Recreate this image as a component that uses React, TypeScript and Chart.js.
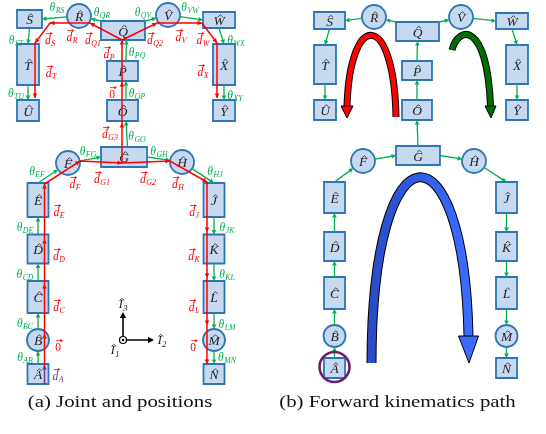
import React, { useEffect, useRef } from "react";
import { Chart, registerables } from "chart.js";

Chart.register(...registerables);

// ---------- data ----------
const NODE_NAMES = ["S","R","Q","V","W","T","P","X","U","O","Y","F","G","H","E","J","D","K","C","L","B","M","A","N"];
const JOINT_NODES = ["R","V","F","H","B","M"];

// panel (a) layout (diagram units)
const A_X = [29.5, 79, 123, 168, 219, 28, 122.5, 224, 28, 122.5, 224, 68, 124, 182, 38, 214, 38, 214, 38, 214, 38, 214, 38, 214];
const A_Y = [19, 16, 30.5, 15, 20, 64.5, 71, 64.5, 110.5, 110.5, 110.5, 163, 157, 162, 200, 200, 249, 249, 297, 297, 340, 340, 374, 374];
const A_W = [25, 24, 44, 24, 32, 22, 31, 22, 22, 31, 22, 24, 46, 24, 21, 21, 21, 21, 21, 21, 22, 22, 21, 21];
const A_H = [18, 24, 19, 24, 16, 41, 20, 41, 21, 21, 21, 24, 20, 24, 34, 34, 29, 29, 32, 32, 22, 22, 20, 20];

// panel (b) layout
const B_X = [329.5, 374, 417.5, 461, 512, 325, 417, 517, 325, 417, 517, 363, 418, 474, 334.5, 506.5, 334.5, 506.5, 334.5, 506.5, 334.5, 506.5, 334.5, 506.5];
const B_Y = [20.5, 17, 31.5, 17, 21, 64.5, 70.5, 64.5, 110, 110, 110, 161, 155.5, 161, 197.5, 197.5, 246.5, 246.5, 293, 293, 336, 336, 368, 368];
const B_W = [31, 24, 43, 24, 32, 22, 30, 22, 22, 30, 22, 24, 44, 24, 21, 21, 21, 21, 21, 21, 22, 22, 21, 21];
const B_H = [17, 24, 19, 24, 16, 39, 19, 39, 20, 20, 20, 24, 19, 24, 31, 31, 29, 29, 32, 32, 22, 22, 20, 20];

// kinematic links (from, anchor, to, anchor)
const LINKS: [string, string, string, string][] = [
  ["A","t","B","c"],["B","c","C","b"],["C","t","D","b"],["D","t","E","b"],["E","t","F","c"],
  ["F","c","G","l"],["G","r","H","c"],["H","c","J","t"],["J","b","K","t"],["K","b","L","t"],
  ["L","b","M","c"],["M","c","N","t"],["G","t","O","b"],["O","t","P","b"],["P","t","Q","b"],
  ["Q","tl","R","c"],["Q","tr","V","c"],["R","c","S","r"],["V","c","W","l"],["S","b","T","t"],
  ["W","b","X","t"],["T","b","U","t"],["X","b","Y","t"],
];
const SPINE_FROM = ["G","O","P"];

// position vectors (panel a)
const RED_CHAINS: number[][][] = [
  [[44.5,365],[44.5,334],[44.5,284],[44.5,239],[44.5,184],[80,161],[122,163],[170,161],[207,182],[207,232],[207,278],[207,325],[207,364]],
  [[122,163],[122,123],[122,82],[122,40]],
  [[122,40],[90,23],[50,23],[35,43],[35,98]],
  [[122,40],[157,23],[202,23],[217,43],[217,98]],
];
const PURPLE_CHAIN = [[44.5,384],[44.5,365]];

const THETA_LABELS: [string, number, number][] = [
  ["RS",57,7],["QR",102,12],["QV",143,12],["VW",190,7],["ST",16,40],["WX",236,40],
  ["PQ",137,52],["TU",16,93],["XY",235,95],["OP",137,93],["GO",137,136],
  ["FG",88,151],["GH",159,151],["EF",37,171],["HJ",215,171],["DE",25,227],["JK",227,227],
  ["CD",25,274],["KL",227,274],["BC",25,323],["LM",227,324],["AB",25,357],["MN",227,357],
];
const D_LABELS: [string, number, number][] = [
  ["R",72,37],["S",50,40],["Q1",93,40],["Q2",155,40],["V",181,37],["W",203,40],
  ["P",109,54],["T",51,73],["X",203,72],["G3",110,134],
  ["F",75,184],["G1",102,179],["G2",148,179],["H",178,184],
  ["E",59,212],["J",194,212],["D",59,256],["K",194,256],["C",59,307],["L",194,307],
];
const ZERO_LABELS = [[112,94],[58,347],[193,347]];
const DA_LABEL: [string, number, number] = ["A",58,376];

const FRAME_ORIGIN = [123, 340];
const FRAME_UP = [123, 312];
const FRAME_RIGHT = [154, 340];
const FRAME_LABELS: [string, number, number][] = [["1",115,350],["2",162,340],["3",123,304]];

// forward-kinematics path sweeps (panel b): cubic control points
const RED_SWEEP = [[396,117],[394,10],[350,10],[347,106]];
const RED_TIP = [347,118];
const GREEN_SWEEP = [[452,50],[458,26],[487,20],[490.5,106]];
const GREEN_TIP = [491,118];
const BLUE_SWEEP = [[371.5,363],[372,120],[464,120],[468.5,336]];
const BLUE_TIP = [469,363];
const BASE_MARK = [334.5, 367];

const CAPTIONS = ["(a) Joint and positions", "(b) Forward kinematics path"];
const CAPTION_X = [120, 397.5];
const CAPTION_Y = 407;

// ---------- drawing helpers ----------
const GREEN = "#00b050";
const RED = "#ff0000";
const BOX_FILL = "#c6d9f0";
const BOX_EDGE = "#2e75b6";
const SERIF = "'Liberation Serif', 'DejaVu Serif', serif";

function head(ctx: CanvasRenderingContext2D, x1: number, y1: number, x2: number, y2: number, len: number, half: number, color: string) {
  const a = Math.atan2(y2 - y1, x2 - x1);
  const c = Math.cos(a), s = Math.sin(a);
  ctx.beginPath();
  ctx.moveTo(x2, y2);
  ctx.lineTo(x2 - len * c + half * s, y2 - len * s - half * c);
  ctx.lineTo(x2 - len * c - half * s, y2 - len * s + half * c);
  ctx.closePath();
  ctx.fillStyle = color;
  ctx.fill();
}

function symbol(ctx: CanvasRenderingContext2D, cx: number, cy: number, main: string, sub: string, color: string, decor: string, size: number, italicMain = true) {
  const subSize = size * 0.68;
  const mf = `${italicMain ? "italic " : ""}${size}px ${SERIF}`;
  const sf = `italic ${subSize}px ${SERIF}`;
  ctx.font = mf;
  const mw = ctx.measureText(main).width;
  ctx.font = sf;
  const sw = sub ? ctx.measureText(sub).width + 0.5 : 0;
  const x0 = cx - (mw + sw) / 2;
  const base = cy + size * 0.32;
  ctx.fillStyle = color;
  ctx.textAlign = "left";
  ctx.textBaseline = "alphabetic";
  ctx.font = mf;
  ctx.fillText(main, x0, base);
  if (sub) {
    ctx.font = sf;
    ctx.fillText(sub, x0 + mw + 0.5, base + subSize * 0.35);
  }
  if (decor === "vec") {
    const y = base - size * 0.88;
    ctx.strokeStyle = color;
    ctx.lineWidth = 0.8;
    ctx.beginPath();
    ctx.moveTo(x0 + 1, y);
    ctx.lineTo(x0 + mw + 1, y);
    ctx.stroke();
    head(ctx, x0 + 1, y, x0 + mw + 2, y, 2.5, 1.6, color);
  } else if (decor === "hat") {
    const y = base - size * 0.72;
    const hx = x0 + mw / 2 + size * 0.1;
    ctx.strokeStyle = color;
    ctx.lineWidth = 0.8;
    ctx.beginPath();
    ctx.moveTo(hx - 2.4, y + 1.3);
    ctx.lineTo(hx, y - 0.8);
    ctx.lineTo(hx + 2.4, y + 1.3);
    ctx.stroke();
  }
}

function bez(ctx: CanvasRenderingContext2D, p: number[][]) {
  ctx.beginPath();
  ctx.moveTo(p[0][0], p[0][1]);
  ctx.bezierCurveTo(p[1][0], p[1][1], p[2][0], p[2][1], p[3][0], p[3][1]);
}

const diagramPlugin = {
  id: "kinematicsDiagram",
  afterDatasetsDraw(chart: any) {
    const ctx: CanvasRenderingContext2D = chart.ctx;
    const xs = chart.scales.x, ys = chart.scales.y;
    const px = (v: number) => xs.getPixelForValue(v);
    const py = (v: number) => ys.getPixelForValue(v);
    const lx = (v: number) => px(v) - px(0);
    const ly = (v: number) => py(v) - py(0);
    const P = (p: number[]) => [px(p[0]), py(p[1])];

    const panels = [
      { X: A_X, Y: A_Y, W: A_W, H: A_H, a: true },
      { X: B_X, Y: B_Y, W: B_W, H: B_H, a: false },
    ];

    ctx.save();
    panels.forEach((pn) => {
      const node = (name: string) => {
        const i = NODE_NAMES.indexOf(name);
        return { x: px(pn.X[i]), y: py(pn.Y[i]), w: lx(pn.W[i]), h: ly(pn.H[i]), j: JOINT_NODES.includes(name) };
      };
      // nodes
      NODE_NAMES.forEach((name) => {
        const n = node(name);
        ctx.beginPath();
        if (n.j) ctx.arc(n.x, n.y, n.w / 2, 0, Math.PI * 2);
        else ctx.rect(n.x - n.w / 2, n.y - n.h / 2, n.w, n.h);
        ctx.fillStyle = BOX_FILL;
        ctx.fill();
        ctx.strokeStyle = BOX_EDGE;
        ctx.lineWidth = 1.8;
        ctx.stroke();
        symbol(ctx, n.x, n.y + 1, name, "", "#222", "hat", 13.5);
      });
      // links
      LINKS.forEach(([f, fa, t, ta]) => {
        const nf = node(f), nt = node(t);
        const dx = pn.a && SPINE_FROM.includes(f) && fa === "t" ? lx(3.5) : 0;
        const anc = (n: any, a: string) => {
          switch (a) {
            case "t": return [n.x + dx, n.y - n.h / 2];
            case "b": return [n.x + dx, n.y + n.h / 2];
            case "l": return [n.x - n.w / 2, n.y];
            case "r": return [n.x + n.w / 2, n.y];
            case "tl": return [n.x - n.w / 2, n.y - n.h / 2];
            case "tr": return [n.x + n.w / 2, n.y - n.h / 2];
            default: return null;
          }
        };
        let p1 = anc(nf, fa), p2 = anc(nt, ta);
        const circ = (n: any, other: number[]) => {
          const vx = other[0] - n.x, vy = other[1] - n.y;
          const d = Math.hypot(vx, vy) || 1;
          return [n.x + (vx / d) * n.w / 2, n.y + (vy / d) * n.w / 2];
        };
        if (!p1) p1 = circ(nf, p2 || [nt.x, nt.y]);
        if (!p2) p2 = circ(nt, p1);
        const a = Math.atan2(p2[1] - p1[1], p2[0] - p1[0]);
        ctx.strokeStyle = GREEN;
        ctx.lineWidth = 1.3;
        ctx.beginPath();
        ctx.moveTo(p1[0], p1[1]);
        ctx.lineTo(p2[0] - 3 * Math.cos(a), p2[1] - 3 * Math.sin(a));
        ctx.stroke();
        head(ctx, p1[0], p1[1], p2[0], p2[1], 4.5, 2.3, GREEN);
      });
    });

    // panel (a): position vectors
    const chain = (pts: number[][], color: string) => {
      const q = pts.map(P);
      ctx.strokeStyle = color;
      ctx.lineWidth = 1.5;
      ctx.beginPath();
      ctx.moveTo(q[0][0], q[0][1]);
      for (let i = 1; i < q.length; i++) ctx.lineTo(q[i][0], q[i][1]);
      ctx.stroke();
      for (let i = 1; i < q.length; i++) head(ctx, q[i - 1][0], q[i - 1][1], q[i][0], q[i][1], 4.5, 2.3, color);
    };
    RED_CHAINS.forEach((c) => chain(c, RED));
    chain(PURPLE_CHAIN, "#7030a0");

    THETA_LABELS.forEach(([s, x, y]) => symbol(ctx, px(x), py(y), "θ", s, GREEN, "", 11.5));
    D_LABELS.forEach(([s, x, y]) => symbol(ctx, px(x), py(y), "d", s, RED, "vec", 11.5));
    ZERO_LABELS.forEach(([x, y]) => symbol(ctx, px(x), py(y), "0", "", RED, "vec", 11.5, false));
    symbol(ctx, px(DA_LABEL[1]), py(DA_LABEL[2]), "d", DA_LABEL[0], "#7030a0", "vec", 11.5);

    // reference frame
    const o = P(FRAME_ORIGIN), u = P(FRAME_UP), r = P(FRAME_RIGHT);
    ctx.strokeStyle = "#000";
    ctx.lineWidth = 1.6;
    ctx.beginPath();
    ctx.moveTo(o[0], o[1] - 3.5); ctx.lineTo(u[0], u[1] + 5);
    ctx.moveTo(o[0] + 3.5, o[1]); ctx.lineTo(r[0] - 5, r[1]);
    ctx.stroke();
    head(ctx, o[0], o[1], u[0], u[1], 6, 3.2, "#000");
    head(ctx, o[0], o[1], r[0], r[1], 6, 3.2, "#000");
    ctx.lineWidth = 1.2;
    ctx.beginPath(); ctx.arc(o[0], o[1], 3.5, 0, Math.PI * 2); ctx.stroke();
    ctx.beginPath(); ctx.arc(o[0], o[1], 1.3, 0, Math.PI * 2); ctx.fillStyle = "#000"; ctx.fill();
    FRAME_LABELS.forEach(([s, x, y]) => symbol(ctx, px(x), py(y), "I", s, "#111", "hat", 12));

    // panel (b): forward kinematics sweeps
    const sweep = (pts: number[][], tip: number[], width: number, fill: any, half: number) => {
      const q = pts.map(P);
      const t = P(tip);
      ctx.lineCap = "butt";
      bez(ctx, q); ctx.strokeStyle = "#000"; ctx.lineWidth = width + 2; ctx.stroke();
      bez(ctx, q); ctx.strokeStyle = fill; ctx.lineWidth = width; ctx.stroke();
      const b = q[3];
      ctx.beginPath();
      ctx.moveTo(b[0] - half, b[1]);
      ctx.lineTo(b[0] + half, b[1]);
      ctx.lineTo(t[0], t[1]);
      ctx.closePath();
      ctx.fillStyle = fill; ctx.fill();
      ctx.strokeStyle = "#000"; ctx.lineWidth = 1; ctx.stroke();
    };
    sweep(RED_SWEEP, RED_TIP, 5, "#ff0000", 6);
    sweep(GREEN_SWEEP, GREEN_TIP, 5, "#006f00", 5.5);
    const g = ctx.createLinearGradient(px(BLUE_SWEEP[0][0]), 0, px(BLUE_TIP[0]), 0);
    g.addColorStop(0, "#2a4cc8");
    g.addColorStop(1, "#3a6cff");
    sweep(BLUE_SWEEP, BLUE_TIP, 8, g, 10);

    const bm = P(BASE_MARK);
    ctx.strokeStyle = "#6e1e70";
    ctx.lineWidth = 2.6;
    ctx.beginPath(); ctx.arc(bm[0], bm[1], lx(15), 0, Math.PI * 2); ctx.stroke();

    // captions
    CAPTIONS.forEach((c, i) => {
      ctx.save();
      ctx.translate(px(CAPTION_X[i]), py(CAPTION_Y));
      ctx.scale(1.19, 1);
      ctx.font = `17.5px ${SERIF}`;
      ctx.fillStyle = "#111";
      ctx.textAlign = "center";
      ctx.textBaseline = "alphabetic";
      ctx.fillText(c, 0, 0);
      ctx.restore();
    });
    ctx.restore();
  },
};

export default function App() {
  const ref = useRef<HTMLCanvasElement | null>(null);
  useEffect(() => {
    if (!ref.current) return;
    const points = NODE_NAMES.flatMap((_, i) => [{ x: A_X[i], y: A_Y[i] }, { x: B_X[i], y: B_Y[i] }]);
    const chart = new Chart(ref.current, {
      type: "scatter",
      data: { datasets: [{ data: points, pointRadius: 0, pointHoverRadius: 0 }] },
      options: {
        animation: false,
        responsive: true,
        maintainAspectRatio: false,
        events: [],
        layout: { padding: 0 },
        plugins: { legend: { display: false }, tooltip: { enabled: false } },
        scales: {
          x: { type: "linear", min: 0, max: 546, display: false },
          y: { type: "linear", min: 0, max: 434, reverse: true, display: false },
        },
      },
      plugins: [diagramPlugin],
    });
    return () => chart.destroy();
  }, []);
  return (
    <div style={{ position: "fixed", left: 0, top: 0, width: 546, height: 434, background: "#fff" }}>
      <canvas ref={ref} />
    </div>
  );
}
